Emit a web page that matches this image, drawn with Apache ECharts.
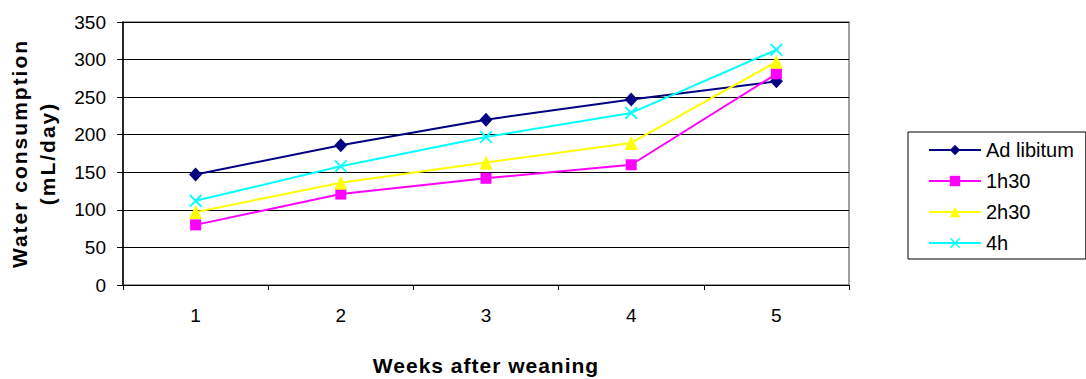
<!DOCTYPE html>
<html>
<head>
<meta charset="utf-8">
<script src="https://cdn.jsdelivr.net/npm/echarts@6/dist/echarts.min.js"></script>
<style>
html,body{margin:0;padding:0;background:#fff;}
#chart{width:1086px;height:379px;}
</style>
</head>
<body>
<div id="chart"></div>
<script>
var weeks = ['1', '2', '3', '4', '5'];
var adLibitum = [147, 186, 220, 247, 271];
var h1h30 = [80, 121, 142, 160, 281];
var h2h30 = [97, 136, 163, 189, 297];
var h4 = [112, 158, 197, 229, 313];
var seriesNames = ['Ad libitum', '1h30', '2h30', '4h'];
var xTitle = 'Weeks after weaning';
var yTitle = 'Water consumption\n(mL/day)';

var crossPath = 'path://M0,1L1,0L5,4L9,0L10,1L6,5L10,9L9,10L5,6L1,10L0,9L4,5Z';
var FONT = 'Liberation Sans, Arial, sans-serif';

function mk(name, data, color, symbol, size) {
  return {
    name: name, type: 'line', data: data,
    symbol: symbol, symbolSize: size,
    showAllSymbol: true,
    lineStyle: {color: color, width: 2},
    itemStyle: {color: color},
    emphasis: {disabled: true},
    z: 3
  };
}

var chart = echarts.init(document.getElementById('chart'), null, {renderer: 'svg'});
chart.setOption({
  animation: false,
  backgroundColor: '#fff',
  grid: {left: 123, right: 237, top: 22, bottom: 94, show: true, borderColor: '#808080', borderWidth: 1.5, containLabel: false, outerBoundsMode: 'none'},
  legend: {
    orient: 'vertical', left: 908, top: 132,
    data: seriesNames,
    itemWidth: 52, itemHeight: 13, itemGap: 11,
    padding: [8, 12, 6, 20],
    borderColor: '#000', borderWidth: 1,
    textStyle: {fontFamily: FONT, fontSize: 20, color: '#000', lineHeight: 18},
    selectedMode: false
  },
  xAxis: {
    type: 'category', data: weeks, boundaryGap: true,
    axisLine: {lineStyle: {color: '#000', width: 1}},
    axisTick: {show: true, length: 5, lineStyle: {color: '#000'}},
    axisLabel: {fontFamily: FONT, fontSize: 19, color: '#000', margin: 21},
    splitLine: {show: false},
    name: xTitle, nameLocation: 'middle', nameGap: 70,
    nameTextStyle: {fontFamily: FONT, fontSize: 21, fontWeight: 'bold', color: '#000'}
  },
  yAxis: {
    type: 'value', min: 0, max: 350, interval: 50,
    axisLine: {show: true, lineStyle: {color: '#000', width: 1.5}},
    axisTick: {show: true, length: 6, lineStyle: {color: '#000'}},
    axisLabel: {fontFamily: FONT, fontSize: 19, color: '#000', margin: 17},
    splitLine: {show: true, lineStyle: {color: '#000', width: 1}},
    name: yTitle, nameLocation: 'middle', nameGap: 62,
    nameTextStyle: {fontFamily: FONT, fontSize: 21, fontWeight: 'bold', color: '#000', lineHeight: 28}
  },
  series: [
    mk(seriesNames[0], adLibitum, '#000080', 'diamond', [13, 14]),
    mk(seriesNames[1], h1h30, '#FF00FF', 'rect', 11),
    mk(seriesNames[2], h2h30, '#FFFF00', 'triangle', [13, 14]),
    mk(seriesNames[3], h4, '#00FFFF', crossPath, 13)
  ]
});

function spaceTitles() {
  var spacing = {'Weeks after weaning': '1px', 'Water consumption': '2px', '(mL/day)': '2px'};
  var texts = document.querySelectorAll('#chart svg text');
  texts.forEach(function (t) {
    var s = spacing[t.textContent.trim()];
    if (s) {
      t.style.letterSpacing = s;
    }
  });
}
spaceTitles();
chart.on('finished', spaceTitles);
</script>
</body>
</html>
